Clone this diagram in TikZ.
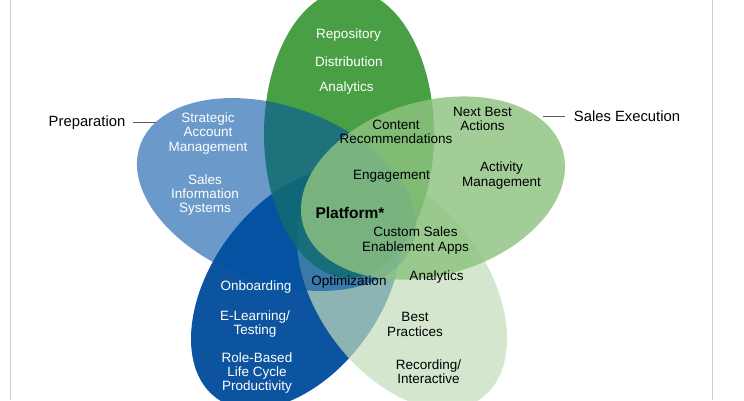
\documentclass[tikz,border=0pt]{standalone}
\usepackage{fontspec}
\setmainfont{Liberation Sans}
\definecolor{cDarkBlue}{RGB}{13,84,160}
\definecolor{cLowRight}{RGB}{194,222,186}
\definecolor{cTopGreen}{RGB}{42,143,35}
\definecolor{cUpLeft}{RGB}{0,82,166}
\definecolor{cUpRight}{RGB}{142,195,129}
\definecolor{cFrame}{RGB}{205,205,205}
\definecolor{cLeader}{RGB}{90,90,90}
\tikzset{
  petal/.style={draw=none},
  inlbl/.style={align=center, inner sep=0pt, font=\fontsize{13.5}{14.3}\selectfont},
  wlbl/.style={inlbl, text=white},
  blbl/.style={inlbl, text=black},
  outlbl/.style={inner sep=0pt, font=\fontsize{14.8}{16}\selectfont, text=black},
  leader/.style={draw=cLeader, line width=0.8pt},
  frameline/.style={draw=cFrame, line width=1.3pt}
}
\begin{document}
\begin{tikzpicture}[x=1pt,y=-1pt]
\useasboundingbox (0,0) rectangle (744,400);
\fill[white] (0,0) rectangle (744,400);
\begin{scope}
\clip (0,0) rectangle (744,400);
% lower left (dark blue)
\begin{scope}[shift={(296,289)}, rotate=234]
  \fill[petal, cDarkBlue] (0,0) ellipse [x radius=135pt, y radius=85pt];
\end{scope}
% lower right (very light green)
\begin{scope}[shift={(402,289)}, rotate=306]
  \fill[petal, cLowRight, fill opacity=0.7] (0,0) ellipse [x radius=135pt, y radius=85pt];
\end{scope}
% top (green)
\begin{scope}[shift={(349,134)}, rotate=90]
  \fill[petal, cTopGreen, fill opacity=0.85] (0,0) ellipse [x radius=144pt, y radius=85pt];
\end{scope}
% upper left (blue)
\begin{scope}[shift={(276.5,194.5)}, rotate=160]
  \fill[petal, cUpLeft, fill opacity=0.585] (0,0) ellipse [x radius=145pt, y radius=88pt];
\end{scope}
% upper right (light green)
\begin{scope}[shift={(433,188)}, rotate=16]
  \fill[petal, cUpRight, fill opacity=0.82] (0,0) ellipse [x radius=135pt, y radius=87pt];
\end{scope}
\end{scope}
% frame lines
\draw[frameline] (10.5,0) -- (10.5,400);
\draw[frameline] (712.5,0) -- (712.5,400);
% top petal
\node[wlbl] (repo) at (348.5,35) {Repository};
\node[wlbl] (distr) at (349,61.5) {Distribution};
\node[wlbl] (anal1) at (346.5,88) {Analytics};
% upper left
\node[wlbl] (sam) at (208,133.5) {Strategic\\Account\\Management};
\node[wlbl] (sis) at (205,195) {Sales\\Information\\Systems};
% upper right
\node[blbl] (nba) at (482.5,119) {Next Best\\Actions};
\node[blbl] (cr) at (396,131.5) {Content\\Recommendations};
\node[blbl] (am) at (501.5,175.5) {Activity\\Management};
\node[blbl] (eng) at (391.5,176) {Engagement};
\node[blbl, font=\fontsize{15.5}{17}\selectfont\bfseries] (plat) at (350,213) {Platform*};
\node[blbl] (csea) at (415.5,240.5) {Custom Sales\\Enablement Apps};
\node[blbl] (opt) at (349,282.5) {Optimization};
\node[blbl] (anal2) at (436.5,277) {Analytics};
% lower left
\node[wlbl] (onb) at (256,287.5) {Onboarding};
\node[wlbl] (elt) at (255,324) {E-Learning/\\Testing};
\node[wlbl] (rbl) at (257,373) {Role-Based\\Life Cycle\\Productivity};
% lower right
\node[blbl] (bp) at (415,324.5) {Best\\Practices};
\node[blbl] (ri) at (428.5,371.5) {Recording/\\Interactive};
% outer labels
\node[outlbl] (prep) at (87,122.5) {Preparation};
\node[outlbl] (sexec) at (627,116.5) {Sales Execution};
\coordinate (prepA) at (133,122.5);
\coordinate (prepB) at (156,122.5);
\coordinate (sexA) at (565,116);
\coordinate (sexB) at (543,116);
\draw[leader] (prepA) -- (prepB);
\draw[leader] (sexB) -- (sexA);
\end{tikzpicture}
\end{document}
